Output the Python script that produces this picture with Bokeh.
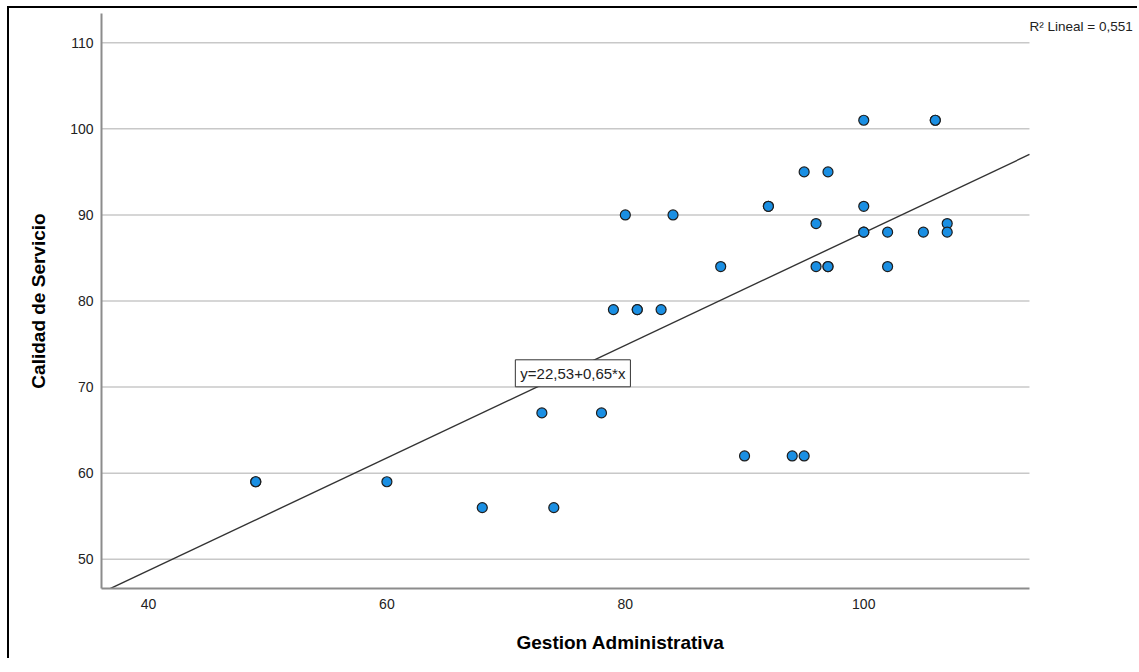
from bokeh.plotting import figure
from bokeh.models import Label, FixedTicker
from bokeh.embed import file_html
from bokeh.resources import INLINE

# Data
gestion = [49, 49, 60, 68, 74, 73, 78, 79, 81, 81, 83, 80, 84, 88, 90, 94, 95, 92,
           92, 95, 97, 96, 96, 97, 97, 100, 106, 106, 100, 100, 100, 102, 102, 105, 107, 107]
calidad = [59, 59, 59, 56, 56, 67, 67, 79, 79, 79, 79, 90, 90, 84, 62, 62, 62, 91,
           91, 95, 95, 89, 84, 84, 84, 101, 101, 101, 91, 88, 88, 88, 84, 88, 89, 88]
intercept = 22.53
slope = 0.654
r2 = 0.551
x_ticks = [40, 60, 80, 100]
y_ticks = [50, 60, 70, 80, 90, 100, 110]

# axis extent (data) and the extra room on the right that holds the R² note
x_lo, x_hi = 36.06, 113.9
y_lo, y_hi = 46.6, 113.4
x_room = 123.13

FONT = "Liberation Sans"

p = figure(width=1130, height=652, x_range=(x_lo, x_room), y_range=(y_lo, y_hi),
           output_backend="svg", toolbar_location=None,
           min_border_left=92, min_border_right=0, min_border_top=5, min_border_bottom=72)
p.styles = {"margin-left": "7px", "margin-top": "6px",
            "border-left": "2px solid black", "border-top": "2px solid black"}
p.outline_line_color = None
p.background_fill_color = "white"
p.border_fill_color = "white"

p.xgrid.visible = False
p.ygrid.visible = False
p.xaxis.ticker = FixedTicker(ticks=x_ticks)
p.yaxis.ticker = FixedTicker(ticks=y_ticks)
p.xaxis.bounds = (x_lo, x_hi)

for ax in (p.xaxis, p.yaxis):
    ax.axis_line_color = "#8c8c8c"
    ax.axis_line_width = 2
    ax.major_tick_line_color = None
    ax.minor_tick_line_color = None
    ax.major_tick_out = 0
    ax.major_tick_in = 0
    ax.major_label_text_font = FONT
    ax.major_label_text_font_size = "14px"
    ax.major_label_text_color = "#222222"
    ax.axis_label_text_font = FONT
    ax.axis_label_text_font_style = "bold"
    ax.axis_label_text_font_size = "19px"
    ax.axis_label_text_color = "black"

p.xaxis.axis_label = "Gestion Administrativa"
p.yaxis.axis_label = "Calidad de Servicio"
p.xaxis.major_label_standoff = 10
p.yaxis.major_label_standoff = 8
p.xaxis.axis_label_standoff = 20
p.yaxis.axis_label_standoff = 18

# horizontal grid lines, limited to the axis extent
p.segment(x0=[x_lo] * len(y_ticks), x1=[x_hi] * len(y_ticks), y0=y_ticks, y1=y_ticks,
          line_color="#c8c8c8", line_width=1.5)

# regression line across the x axis extent
lx = [x_lo, x_hi]
ly = [intercept + slope * v for v in lx]
p.line(lx, ly, line_color="#333333", line_width=1.4)

p.scatter(gestion, calidad, size=10, fill_color="#1a8fe3", line_color="#1e1e1e", line_width=1.2)

eq = "y={:.2f}+{:.2f}*x".format(intercept, slope).replace(".", ",")
p.add_layout(Label(x=75.6, y=71.6, text=eq, text_align="center", text_baseline="middle",
                   text_font=FONT, text_font_size="15px", text_color="#222222",
                   border_line_color="#333333", border_line_width=1,
                   background_fill_color="white", padding=5))

p.add_layout(Label(x=x_hi, y=111.85,
                   text="R\u00b2 Lineal = " + "{:.3f}".format(r2).replace(".", ","),
                   text_align="left", text_baseline="middle",
                   text_font=FONT, text_font_size="13.5px", text_color="#222222"))

open("out.html", "w").write(file_html(p, INLINE))
